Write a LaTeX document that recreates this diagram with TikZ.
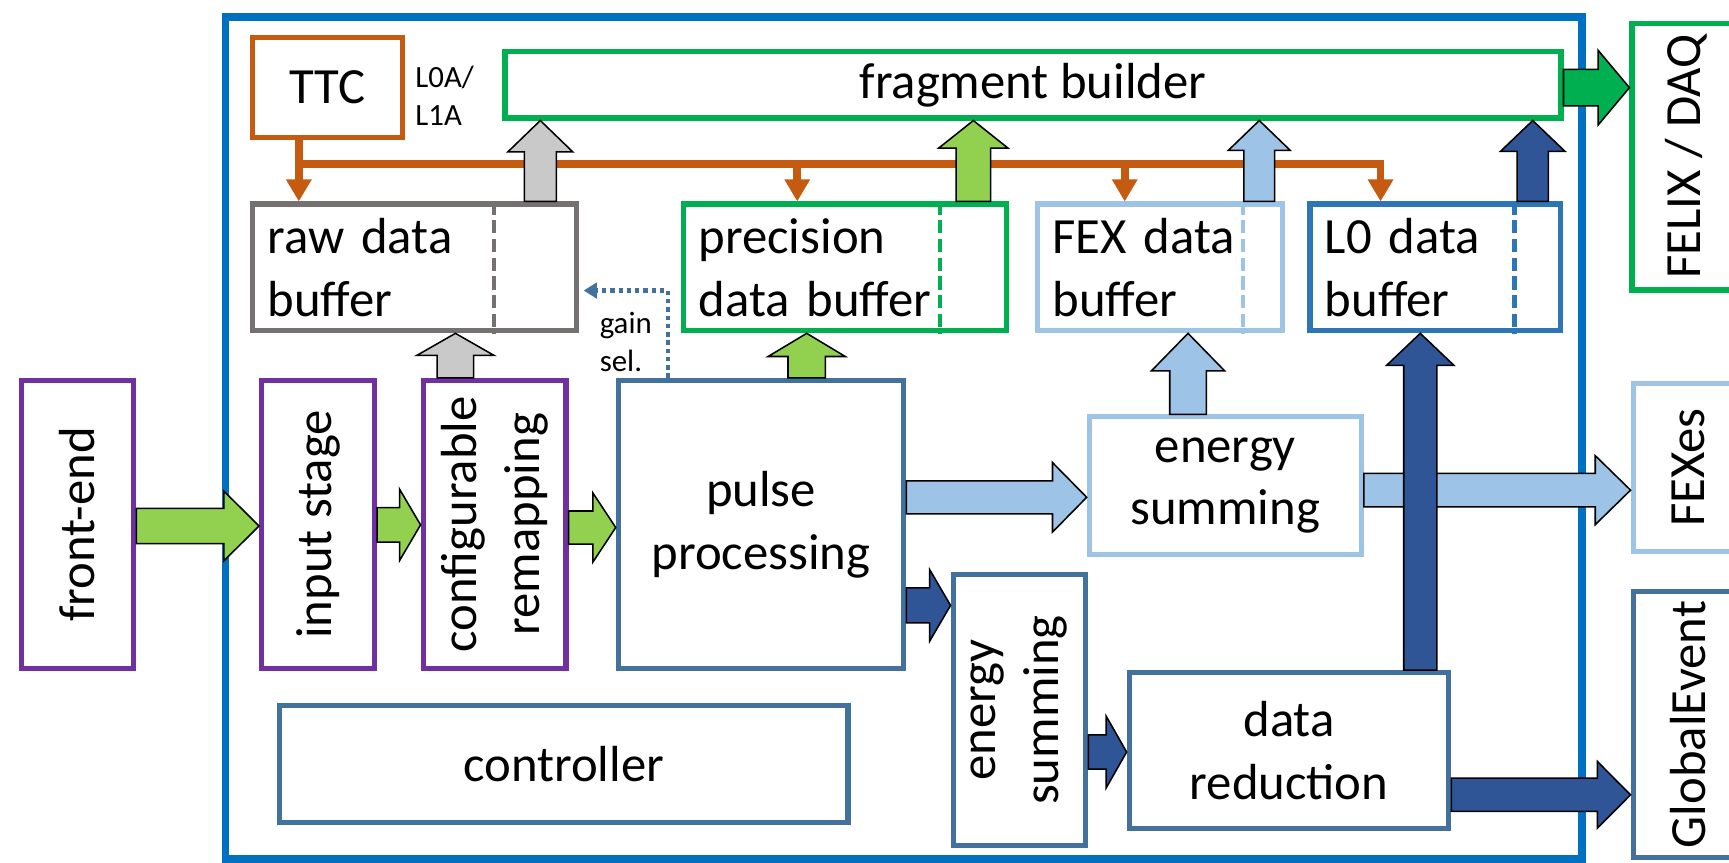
\documentclass[tikz,border=0pt]{standalone}
\usepackage{fontspec}
\setmainfont{Carlito}
\usetikzlibrary{arrows.meta,calc}
\definecolor{outerblue}{HTML}{0070C0}
\definecolor{ttcorange}{HTML}{C55A11}
\definecolor{fbgreen}{HTML}{00B050}
\definecolor{rawgray}{HTML}{767171}
\definecolor{arrgray}{HTML}{C9C9C9}
\definecolor{lgreen}{HTML}{92D050}
\definecolor{lblue}{HTML}{9DC3E6}
\definecolor{midblue}{HTML}{2E75B6}
\definecolor{dblue}{HTML}{2F5597}
\definecolor{slate}{HTML}{41719C}
\definecolor{purp}{HTML}{7030A0}
\newcommand\mybigf{\fontsize{46}{57}\selectfont}
\newcommand\mysmallf{\fontsize{28}{35}\selectfont}
% right block arrow: from, to, y-coordinate, shaft half, head half, head length, fill
\newcommand\arrR[7]{%
  \draw[blk,fill=#7] let \p1=(#1),\p2=(#2),\p3=(#3) in
    (\x1,\y3+#4pt) -- (\x2-#6pt,\y3+#4pt) -- (\x2-#6pt,\y3+#5pt) -- (\x2,\y3)
    -- (\x2-#6pt,\y3-#5pt) -- (\x2-#6pt,\y3-#4pt) -- (\x1,\y3-#4pt) -- cycle;}
% up block arrow: from, to, x-coordinate, shaft half, head half, head length, fill
\newcommand\arrU[7]{%
  \draw[blk,fill=#7] let \p1=(#1),\p2=(#2),\p3=(#3) in
    (\x3-#4pt,\y1) -- (\x3-#4pt,\y2-#6pt) -- (\x3-#5pt,\y2-#6pt) -- (\x3,\y2)
    -- (\x3+#5pt,\y2-#6pt) -- (\x3+#4pt,\y2-#6pt) -- (\x3+#4pt,\y1) -- cycle;}
\begin{document}
\begin{tikzpicture}[x=1pt,y=-1pt,
  box/.style={draw, line width=4.6pt, inner sep=0pt, font=\mybigf, align=center},
  bufbox/.style={box, align=left, inner xsep=13.5pt, inner ysep=0pt, minimum height=115pt},
  rtext/.style={rotate=90, font=\mybigf, align=center},
  smallt/.style={font=\mysmallf, inner sep=0pt},
  blk/.style={draw=black, line width=1.4pt, line join=miter},
  bus/.style={draw=ttcorange, line width=7pt, -{Triangle[width=22pt,length=20pt]}},
  dotline/.style={draw=slate, line width=4pt, dash pattern=on 4pt off 3.5pt, -{Triangle[width=14pt,length=12pt]}, shorten >=4pt},
  divider/.style={line width=4pt, dash pattern=on 12pt off 5pt}]
\path[use as bounding box] (0,0) rectangle (1568,782);
\clip (0,0) rectangle (1568,782);

% outer board
\node[box, draw=outerblue, line width=7pt, minimum width=1230.2pt, minimum height=763.3pt] (board) at (819.6,397.15) {};

% top row
\node[box, draw=ttcorange, minimum width=136pt, minimum height=91pt] (ttc) at (297,79.5) {TTC};
\node[smallt, anchor=base west] (l0a) at (376.5,79) {L0A/};
\node[smallt, anchor=base west] (l1a) at (376.5,114) {L1A};
\node[box, draw=fbgreen, minimum width=957.6pt, minimum height=60pt] (fb) at (936.8,77) {fragment builder};
\node[box, draw=fbgreen, minimum width=98pt, minimum height=242pt] (felix) at (1529,142) {};
\node[rtext] (felixt) at (felix.center) {FELIX / DAQ};

% buffers
\node[bufbox, draw=rawgray, text width=267pt] (raw) at (376,242.5) {raw data\\buffer};
\node[bufbox, draw=fbgreen, text width=266pt] (prec) at (766.5,242.5) {precision\\data buffer};
\node[bufbox, draw=lblue, text width=195pt] (fexbuf) at (1052,242.5) {FEX data\\buffer};
\node[bufbox, draw=midblue, text width=200pt] (l0buf) at (1301.5,242.5) {L0 data\\buffer};
\coordinate (rawd) at (448,0);
\coordinate (precd) at (852.6,0);
\coordinate (fexd) at (1127,0);
\coordinate (l0d) at (1373.4,0);
\draw[divider, draw=rawgray] (raw.north -| rawd) -- (raw.south -| rawd);
\draw[divider, draw=fbgreen] (prec.north -| precd) -- (prec.south -| precd);
\draw[divider, draw=lblue] (fexbuf.north -| fexd) -- (fexbuf.south -| fexd);
\draw[divider, draw=midblue] (l0buf.north -| l0d) -- (l0buf.south -| l0d);

% middle row
\node[box, draw=purp, minimum width=102pt, minimum height=261pt] (fe) at (70.3,475.5) {};
\node[rtext] (fet) at (fe.center) {front-end};
\node[box, draw=purp, minimum width=102.5pt, minimum height=261pt] (input) at (288.5,475.5) {};
\node[rtext] (inputt) at (input.center) {input stage};
\node[box, draw=purp, minimum width=129.6pt, minimum height=261pt] (conf) at (448.5,475.5) {};
\node[rtext] (conft) at (conf.center) {configurable\\remapping};
\node[box, draw=slate, minimum width=259pt, minimum height=261pt] (pulse) at (690.2,475.5) {pulse\\processing};
\node[box, draw=lblue, minimum width=246.8pt, minimum height=124.7pt] (es) at (1111.2,440.35) {energy\\summing};
\node[box, draw=lblue, minimum width=100pt, minimum height=152pt] (fexes) at (1531,424) {};
\node[rtext] (fexest) at (fexes.center) {FEXes};

% bottom row
\node[box, draw=slate, minimum width=120.3pt, minimum height=246pt] (es2) at (924.5,644) {};
\node[rtext] (es2t) at (es2.center) {energy\\summing};
\node[box, draw=slate, minimum width=290pt, minimum height=141pt] (dr) at (1169,680.5) {data\\reduction};
\node[box, draw=slate, minimum width=100pt, minimum height=241pt] (ge) at (1531,657) {};
\node[rtext] (get) at (ge.center) {GlobalEvent};
\node[box, draw=slate, minimum width=515.4pt, minimum height=106pt] (ctrl) at (511.3,693) {controller};

% TTC bus
\coordinate (busL) at (271,149);
\coordinate (busR) at (1252,149);
\coordinate (bus2) at (723,149);
\coordinate (bus3) at (1020,149);
\draw[bus] (ttc.south -| busL) -- (raw.north -| busL);
\draw[bus] (busL) -- (busR) -- (l0buf.north -| busR);
\draw[bus] (bus2) -- (prec.north -| bus2);
\draw[bus] (bus3) -- (fexbuf.north -| bus3);

% gain selection
\coordinate (gs) at (605.7,263.5);
\draw[dotline] (pulse.north -| gs) -- (gs) -- (gs -| raw.east);
\node[smallt, anchor=base west] (gain) at (543.7,302) {gain};
\node[smallt, anchor=base west] (sel) at (543.7,337) {sel.};

% block arrows up to fragment builder
\arrU{raw.north}{fb.south}{490,0}{14.5}{29.5}{28.5}{arrgray}
\arrU{prec.north}{fb.south}{882.7,0}{15.6}{31.4}{25}{lgreen}
\arrU{fexbuf.north}{fb.south}{1142,0}{14}{28}{27}{lblue}
\arrU{l0buf.north}{fb.south}{1390,0}{14.2}{29.3}{28}{dblue}
% block arrows up to buffers
\arrU{conf.north}{raw.south}{413,0}{16.5}{35}{20}{arrgray}
\arrU{pulse.north}{prec.south}{731.6,0}{17}{35}{21}{lgreen}
\arrU{es.north}{fexbuf.south}{1077.4,0}{16.6}{33.2}{34}{lblue}
% block arrows to the right
\arrR{fe.east}{input.west}{0,477}{16}{31.7}{32}{lgreen}
\arrR{input.east}{conf.west}{0,476}{15.7}{32.3}{19}{lgreen}
\arrR{conf.east}{pulse.west}{0,478.4}{15}{31.3}{20.7}{lgreen}
\arrR{pulse.east}{es.west}{0,451}{15}{31.5}{31}{lblue}
\arrR{pulse.east}{es2.west}{0,549}{15.8}{32.5}{19}{dblue}
\arrR{es2.east}{dr.west}{0,682}{15.5}{32.5}{18.5}{dblue}
\arrR{es.east}{fexes.west}{0,444.5}{15.2}{31.3}{32}{lblue}
\arrR{dr.east}{ge.west}{0,720.8}{15.1}{30.2}{30}{dblue}
\arrR{fb.east}{felix.west}{0,79.5}{16.6}{34}{28.5}{fbgreen}
% long arrow from data reduction to L0 buffer
\arrU{dr.north}{l0buf.south}{1288,0}{15}{30.5}{29}{dblue}
\end{tikzpicture}
\end{document}
